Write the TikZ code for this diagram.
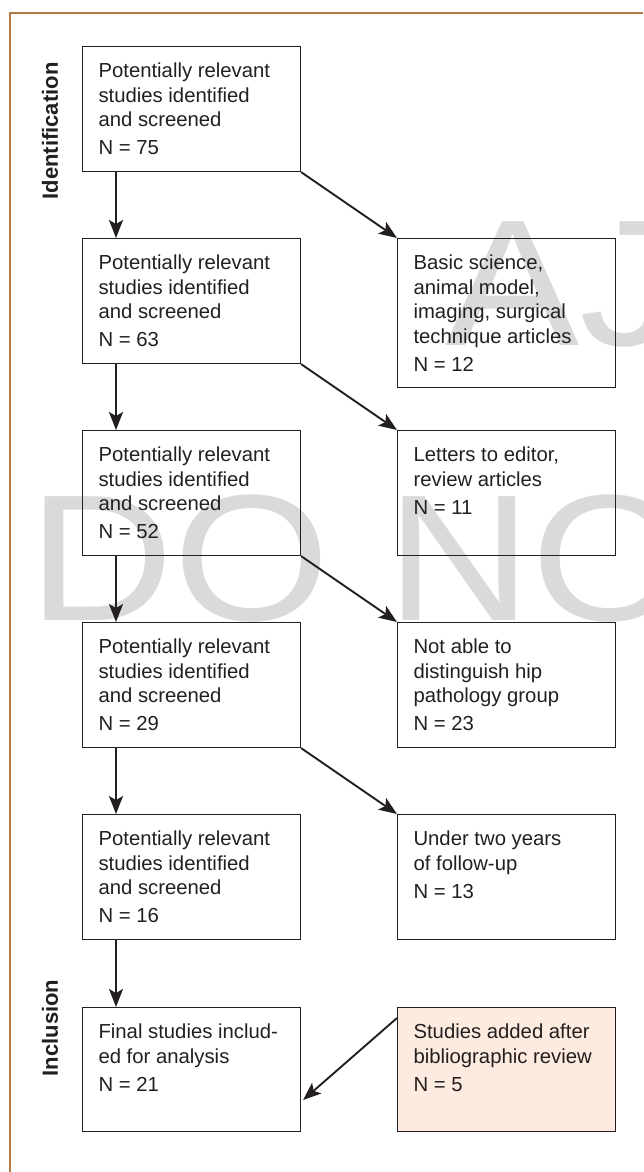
\documentclass[tikz,border=0pt]{standalone}
\usepackage{fontspec}
\usepackage{graphicx}
\setmainfont{Liberation Sans}
\usetikzlibrary{arrows.meta}
\definecolor{framebrown}{HTML}{B57A45}
\definecolor{peach}{HTML}{FDEBDF}
\definecolor{wmgray}{HTML}{DADADA}
\definecolor{ink}{HTML}{231F20}
\newcommand\bxt[2]{\parbox[b][#1][t]{186pt}{\raggedright\fontsize{20.3}{24.5}\selectfont\rule{0pt}{31pt}#2}}
\begin{document}
\begin{tikzpicture}[x=1pt,y=1pt,
  box/.style={draw=ink, line width=1.1pt, anchor=north west, inner xsep=16pt, inner ysep=0pt, text=ink},
  arr/.style={draw=ink, line width=1.9pt, -{Stealth[length=18pt,width=14pt,inset=4pt]}},
  phase/.style={rotate=90, font=\fontsize{22}{22}\selectfont\bfseries, text=ink},
  wm/.style={text=wmgray, font=\fontsize{180}{180}\selectfont, inner sep=0pt}]
\useasboundingbox (0,0) rectangle (643,-1172);
\begin{scope}
\clip (0,0) rectangle (643,-1172);
\node[wm, anchor=base west] (wm1) at (28,-620) {\scalebox{1.12}[1]{DO NO}};
\node[wm, anchor=base west] (wm2) at (445,-345) {\scalebox{1.12}[1]{AJ}};
\end{scope}
\draw[framebrown, line width=2pt] (643,-13) -- (10,-13) -- (10,-1172);

\node[box] (b1) at (82,-46) {\bxt{125pt}{Potentially relevant\\studies identified\\and screened\\[3.5pt]N = 75}};
\node[box] (b2) at (82,-238) {\bxt{125pt}{Potentially relevant\\studies identified\\and screened\\[3.5pt]N = 63}};
\node[box] (b3) at (82,-430) {\bxt{125pt}{Potentially relevant\\studies identified\\and screened\\[3.5pt]N = 52}};
\node[box] (b4) at (82,-622) {\bxt{125pt}{Potentially relevant\\studies identified\\and screened\\[3.5pt]N = 29}};
\node[box] (b5) at (82,-814) {\bxt{125pt}{Potentially relevant\\studies identified\\and screened\\[3.5pt]N = 16}};
\node[box] (b6) at (82,-1007) {\bxt{124pt}{Final studies includ-\\ed for analysis\\[3.5pt]N = 21}};

\node[box] (r1) at (397,-238) {\bxt{149pt}{Basic science,\\animal model,\\imaging, surgical\\technique articles\\[3.5pt]N = 12}};
\node[box] (r2) at (397,-430) {\bxt{125pt}{Letters to editor,\\review articles\\[3.5pt]N = 11}};
\node[box] (r3) at (397,-622) {\bxt{125pt}{Not able to\\distinguish hip\\pathology group\\[3.5pt]N = 23}};
\node[box] (r4) at (397,-814) {\bxt{125pt}{Under two years\\of follow-up\\[3.5pt]N = 13}};
\node[box, fill=peach] (r5) at (397,-1007) {\bxt{124pt}{Studies added after\\bibliographic review\\[3.5pt]N = 5}};

\node[phase] (ph1) at (50,-131) {Identification};
\node[phase] (ph2) at (50,-1028) {Inclusion};

\foreach \a/\b in {b1/b2,b2/b3,b3/b4,b4/b5,b5/b6}
  \draw[arr] ([xshift=34pt]\a.south west) -- ([xshift=34pt]\b.north west);
\foreach \a/\b in {b1/r1,b2/r2,b3/r3,b4/r4}
  \draw[arr] (\a.south east) -- (\b.north west);
\draw[arr] ([yshift=-11pt]r5.north west) -- ([xshift=2pt,yshift=-93pt]b6.north east);
\end{tikzpicture}
\end{document}
